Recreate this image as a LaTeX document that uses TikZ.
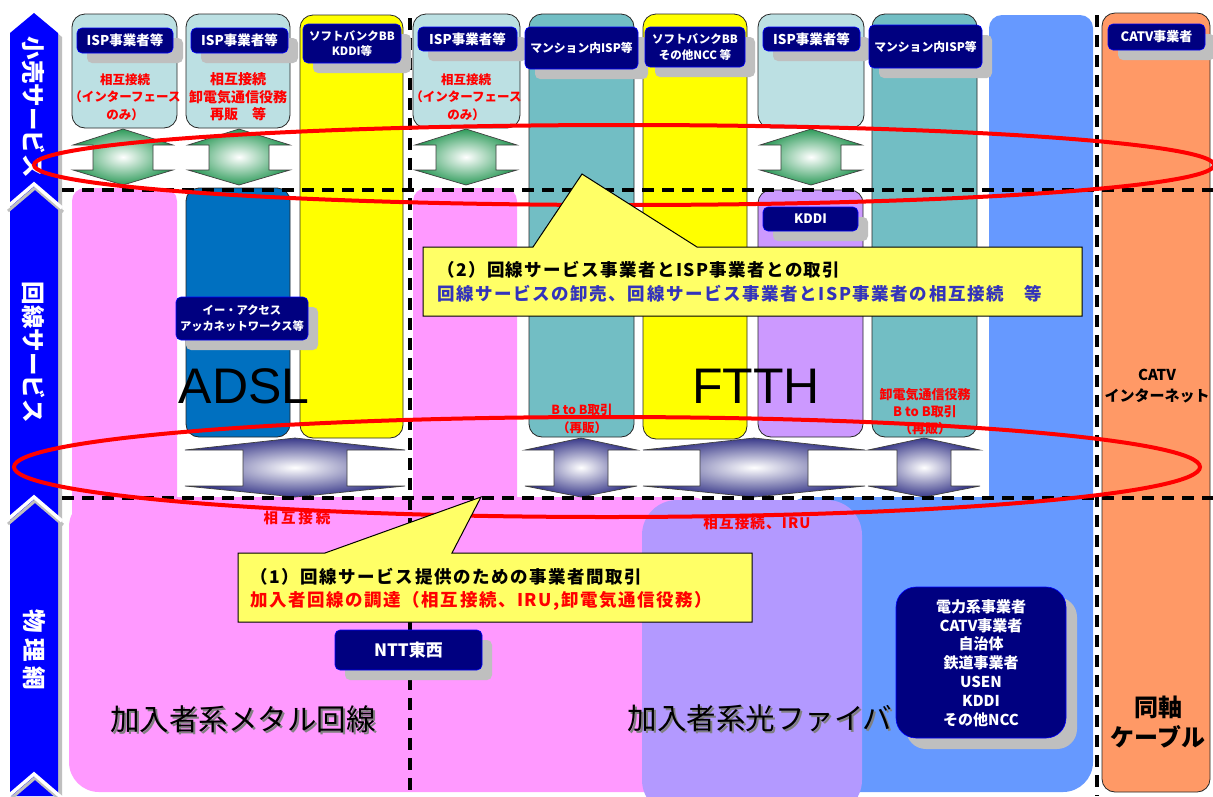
\documentclass[tikz,border=0pt]{standalone}
\usepackage{fontspec}
\setmainfont{Noto Sans CJK JP}
\newfontfamily\arialf{Liberation Sans}
\definecolor{lblue}{HTML}{BCE0E3}
\definecolor{tealc}{HTML}{72BEC4}
\definecolor{yel}{HTML}{FFFF00}
\definecolor{pinkc}{HTML}{FF99FF}
\definecolor{adslc}{HTML}{0070C0}
\definecolor{kddic}{HTML}{CC99FF}
\definecolor{bluec}{HTML}{6699FF}
\definecolor{fiberc}{HTML}{B399FF}
\definecolor{orangec}{HTML}{FF9966}
\definecolor{navyc}{HTML}{000080}
\definecolor{callc}{HTML}{FFFF66}
\definecolor{barblue}{HTML}{0000FF}
\definecolor{shadowc}{HTML}{BFBFBF}
\definecolor{greenarr}{HTML}{2E9B5A}
\definecolor{purparr}{HTML}{3A3A8A}
\definecolor{calltext}{HTML}{3333BB}
\newcommand\lbl[8]{%
  \fill[lblshadow] ({#2+10},{#3+10}) rectangle ({#4+10},{#5+10});
  \draw[lblbox] (#2,#3) rectangle (#4,#5);
  \node[lbltext, font=\bfseries\fontsize{#6}{#7}\selectfont] (#1) at ({(#2+#4)/2},{(#3+#5)/2}) {#8};}
\newcommand\dblarrow[8]{%
  \shade[inner color=white, outer color=#8, draw=black!75, line width=0.7pt]
    (#1,#2) -- ({#1+#6},#3) -- ({#1+#7},#3) -- ({#1+#7},#4) -- ({#1+#6},#4) -- (#1,#5)
    -- ({#1-#6},#4) -- ({#1-#7},#4) -- ({#1-#7},#3) -- ({#1-#6},#3) -- cycle;}
\begin{document}
\begin{tikzpicture}[x=1pt,y=-1pt,
  colbox/.style={draw=black!85, line width=0.8pt, rounded corners=13pt},
  lblbox/.style={fill=navyc, draw=blue, line width=0.6pt, rounded corners=5pt},
  lblshadow/.style={fill=shadowc, rounded corners=5pt},
  lbltext/.style={text=white, align=center, inner sep=0pt},
  redlbl/.style={text=red, align=center, inner sep=0pt},
  dashln/.style={line width=3.2pt, dash pattern=on 12pt off 8pt},
  callout/.style={fill=callc, draw=black, line width=1pt},
  ring/.style={draw=red, line width=4pt},
  bartext/.style={text=white, font=\bfseries\fontsize{23.5}{23.5}\selectfont, rotate=-90, inner sep=0pt},
  bigtext/.style={font=\fontsize{29.5}{32}\selectfont, inner sep=0pt}]
\clip (0,0) rectangle (1213,796);
\fill[white] (0,0) rectangle (1213,796);

% ---- left layer bar ----
\fill[shadowc] (14,37) -- (38,17) -- (62,37) -- (62,796) -- (14,796) -- cycle;
\fill[barblue] (10,33) -- (34,13) -- (58,33) -- (58,796) -- (10,796) -- cycle;
\foreach \yy in {184,497,774} {
  \draw[shadowc, line width=3pt] (8,\yy+27) -- (35,\yy+4) -- (63,\yy+28);
  \draw[white, line width=3.5pt] (6,\yy+24) -- (34,\yy) -- (62,\yy+24);
}
\node[bartext] (lay1) at (34,107) {小売サービス};
\node[bartext] (lay2) at (34,352) {回線サービス};
\node[bartext] (lay3) at (34,650) {物\kern5pt理\kern5pt網};

% ---- physical layer regions ----
\fill[pinkc, rounded corners=30pt] (69,497) rectangle (720,792);
\fill[bluec, rounded corners=30pt] (780,497) rectangle (1093,792);
\fill[fiberc, rounded corners=35pt] (642,500) rectangle (862,815);
\fill[pinkc, rounded corners=13pt] (72,188) rectangle (177,560);
\fill[pinkc, rounded corners=13pt] (413,188) rectangle (517,560);
\fill[bluec, rounded corners=13pt] (989,15) rectangle (1093,560);

% ---- columns ----
\draw[colbox, fill=lblue] (72,14) rectangle (177,128);
\draw[colbox, fill=lblue] (186,14) rectangle (290,128);
\draw[colbox, fill=yel] (300,15) rectangle (403,438);
\draw[colbox, fill=lblue] (413,14) rectangle (520,128);
\draw[colbox, fill=tealc] (529,14) rectangle (634,437);
\draw[colbox, fill=yel] (643,14) rectangle (747,439);
\draw[colbox, fill=lblue] (758,14) rectangle (864,128);
\draw[colbox, fill=tealc] (872,14) rectangle (977,437);
\draw[colbox, fill=orangec] (1102,13) rectangle (1210,792);
\draw[colbox, fill=adslc] (186,188) rectangle (290,437);
\draw[colbox, fill=kddic] (758,190) rectangle (863,437);

% ---- arrows ----
\dblarrow{123}{129}{145}{170}{185}{50}{30}{greenarr}
\dblarrow{239}{129}{145}{170}{185}{51}{30}{greenarr}
\dblarrow{466}{129}{145}{170}{185}{51}{30}{greenarr}
\dblarrow{811}{129}{145}{170}{185}{51}{30}{greenarr}
\dblarrow{295}{438}{450}{486}{497}{110}{52}{purparr}
\dblarrow{581}{438}{450}{486}{497}{56}{27}{purparr}
\dblarrow{754}{438}{450}{486}{497}{111}{54}{purparr}
\dblarrow{924}{438}{450}{486}{497}{56}{27}{purparr}

% ---- dashed lines ----
\draw[dashln] (62,190) -- (1213,190);
\draw[dashln] (62,498) -- (1213,498);
\draw[dashln] (410,18) -- (410,796);
\draw[dashln] (1097,15) -- (1097,796);

% ---- labels ----
\lbl{isp1}{77}{28}{173}{53}{13.5}{15}{ISP事業者等}
\lbl{isp2}{191}{28}{288}{53}{13.5}{15}{ISP事業者等}
\lbl{sb1}{303}{24}{401}{63}{11.5}{15.5}{ソフトバンクBB\\KDDI等}
\lbl{isp3}{418}{27}{517}{51}{13.5}{15}{ISP事業者等}
\lbl{man1}{525}{27}{638}{69}{11.8}{14}{マンション内ISP等}
\lbl{sb2}{645}{27}{745}{67}{11.5}{15.5}{ソフトバンクBB\\その他NCC 等}
\lbl{isp4}{763}{27}{860}{51}{13.5}{15}{ISP事業者等}
\lbl{man2}{869}{25}{982}{68}{11.8}{14}{マンション内ISP等}
\lbl{catvop}{1108}{24}{1205}{50}{13}{15}{CATV事業者}
\lbl{eacc}{176}{297}{308}{340}{11.3}{15.5}{イー・アクセス\\アッカネットワークス等}
\lbl{kddi}{763}{207}{858}{231}{13}{15}{KDDI}
\lbl{ntt}{335}{630}{482}{670}{17}{19}{NTT東西}
\fill[shadowc, rounded corners=20pt] (906,597) rectangle (1077,749);
\draw[fill=navyc, draw=blue, line width=0.6pt, rounded corners=20pt] (896,587) rectangle (1066,738);
\node[lbltext, font=\bfseries\fontsize{15}{18.8}\selectfont] (others) at (981,663)
  {電力系事業者\\CATV事業者\\自治体\\鉄道事業者\\USEN\\KDDI\\その他NCC};

% ---- texts ----
\node[redlbl, font=\bfseries\fontsize{12.5}{17.5}\selectfont] (r1) at (125,97) {相互接続\\（インターフェース\\のみ）};
\node[redlbl, font=\bfseries\fontsize{14}{17.5}\selectfont] (r2) at (238,97) {相互接続\\卸電気通信役務\\再販　等};
\node[redlbl, font=\bfseries\fontsize{12.5}{17.5}\selectfont] (r3) at (466,97) {相互接続\\（インターフェース\\のみ）};
\node[redlbl, font=\bfseries\fontsize{12.5}{18}\selectfont] (r4) at (582,419) {B to B取引\\（再販）};
\node[redlbl, font=\bfseries\fontsize{13}{17}\selectfont] (r5) at (925,412) {卸電気通信役務\\B to B取引\\（再販）};
\node[redlbl, font=\bfseries\fontsize{14.5}{16}\selectfont\addfontfeature{LetterSpace=20}] (r6) at (297,518) {相互接続};
\node[redlbl, font=\bfseries\fontsize{14.5}{16}\selectfont\addfontfeature{LetterSpace=8}] (r7) at (757,523) {相互接続、IRU};
\node[font=\arialf\fontsize{50}{50}\selectfont, inner sep=0pt] (adsl) at (244,386) {ADSL};
\node[font=\arialf\fontsize{50}{50}\selectfont, inner sep=0pt] (ftth) at (756,386) {FTTH};
\node[font=\bfseries\fontsize{15}{21}\selectfont, align=center, inner sep=0pt] (catv) at (1157,386) {CATV\\インターネット};
\node[font=\bfseries\fontsize{24}{30}\selectfont, align=center, inner sep=0pt] (coax) at (1158,722) {同軸\\ケーブル};
\node[bigtext, text=gray] (metalsh) at (245,721) {加入者系メタル回線};
\node[bigtext] (metal) at (243,719) {加入者系メタル回線};
\node[bigtext, text=gray] (fibersh) at (762,720) {加入者系光ファイバ};
\node[bigtext] (fiber) at (760,718) {加入者系光ファイバ};

% ---- rings ----
\draw[ring] (624,165) ellipse [x radius=590pt, y radius=40pt];
\draw[ring] (607,467) ellipse [x radius=593pt, y radius=50pt];

% ---- callouts ----
\draw[callout] (423,247) -- (533,247) -- (582,174) -- (697,247) -- (1082,247) -- (1082,316) -- (423,316) -- cycle;
\node[anchor=west, inner sep=0pt, font=\bfseries\fontsize{17.5}{20}\selectfont\addfontfeature{LetterSpace=8}] (c2a) at (437,270) {（2）回線サービス事業者とISP事業者との取引};
\node[anchor=west, inner sep=0pt, text=calltext, font=\bfseries\fontsize{17.5}{20}\selectfont\addfontfeature{LetterSpace=9}] (c2b) at (437,294) {回線サービスの卸売、回線サービス事業者とISP事業者の相互接続　等};
\draw[callout] (238,553) -- (325,553) -- (481,497) -- (452,553) -- (752,553) -- (752,622) -- (238,622) -- cycle;
\node[anchor=west, inner sep=0pt, font=\bfseries\fontsize{17.5}{20}\selectfont\addfontfeature{LetterSpace=9}] (c1a) at (250,577) {（1）回線サービス提供のための事業者間取引};
\node[anchor=west, inner sep=0pt, text=red, font=\bfseries\fontsize{17.5}{20}\selectfont\addfontfeature{LetterSpace=9}] (c1b) at (250,601) {加入者回線の調達（相互接続、IRU,卸電気通信役務）};
\end{tikzpicture}
\end{document}
